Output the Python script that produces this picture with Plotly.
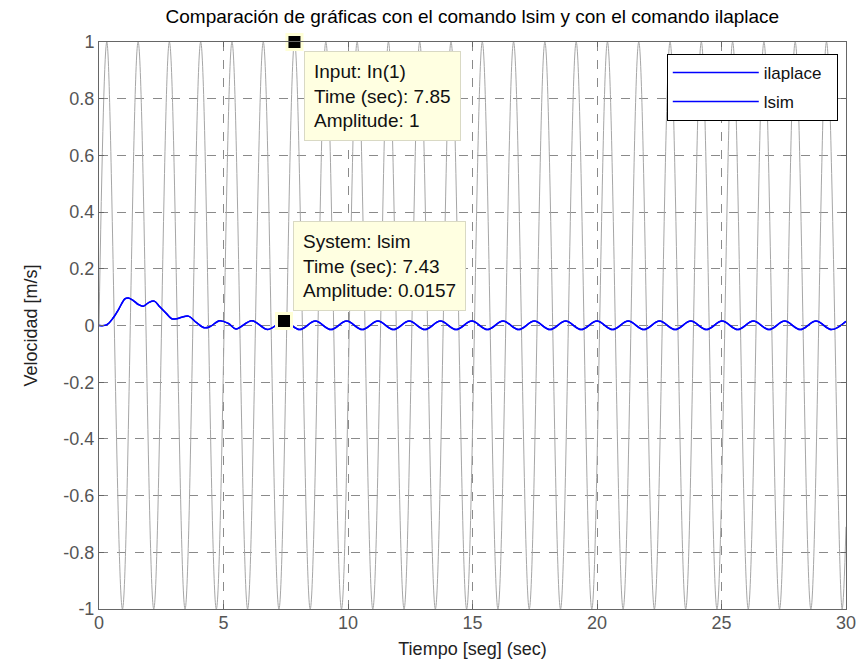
import plotly.graph_objects as go

# ---------------- data ----------------
# Input signal (gray) : peaks / troughs
input_t = [0.0, 0.314, 0.942, 1.571, 2.199, 2.827, 3.456, 4.084, 4.712, 5.341, 5.969,
           6.597, 7.226, 7.854, 8.482, 9.110, 9.739, 10.367, 10.996, 11.624, 12.252,
           12.880, 13.509, 14.137, 14.765, 15.394, 16.022, 16.650, 17.279, 17.907,
           18.535, 19.164, 19.792, 20.420, 21.049, 21.677, 22.305, 22.934, 23.562,
           24.190, 24.819, 25.447, 26.075, 26.704, 27.332, 27.960, 28.589, 29.217,
           29.845, 30.0]
input_u = [0.0, 1, -1, 1, -1, 1, -1, 1, -1, 1, -1,
           1, -1, 1, -1, 1, -1, 1, -1, 1, -1,
           1, -1, 1, -1, 1, -1, 1, -1, 1,
           -1, 1, -1, 1, -1, 1, -1, 1, -1,
           1, -1, 1, -1, 1, -1, 1, -1, 1,
           -1, -0.71]

# System response (blue)
resp_t = [0.0, 0.30, 0.58, 0.80, 1.04, 1.18, 1.38, 1.58, 1.78, 1.98, 2.22, 2.45, 2.72,
          2.92, 3.12, 3.32, 3.59, 3.92, 4.23, 4.46, 4.84, 5.20, 5.50, 6.14, 6.78, 7.43,
          8.058, 8.687, 9.315, 9.943, 10.572, 11.200, 11.828, 12.457, 13.085, 13.713,
          14.341, 14.970, 15.598, 16.226, 16.855, 17.483, 18.111, 18.740, 19.368,
          19.996, 20.625, 21.253, 21.881, 22.510, 23.138, 23.766, 24.395, 25.023,
          25.651, 26.279, 26.908, 27.536, 28.164, 28.793, 29.421, 30.0]
resp_y = [0.0, 0.002, 0.028, 0.059, 0.094, 0.097, 0.088, 0.074, 0.068, 0.080, 0.086,
          0.065, 0.041, 0.024, 0.024, 0.029, 0.033, 0.010, -0.008, -0.004, 0.017, 0.007,
          -0.012, 0.017, -0.014, 0.0157,
          -0.0145, 0.0157, -0.0145, 0.0157, -0.0145, 0.0157, -0.0145, 0.0157, -0.0145,
          0.0157, -0.0145, 0.0157, -0.0145, 0.0157, -0.0145, 0.0157, -0.0145, 0.0157,
          -0.0145, 0.0157, -0.0145, 0.0157, -0.0145, 0.0157, -0.0145, 0.0157, -0.0145,
          0.0157, -0.0145, 0.0157, -0.0145, 0.0157, -0.0145, 0.0157, -0.0145, 0.015]

series_names = ["ilaplace", "lsim"]

x_ticks = [0, 5, 10, 15, 20, 25, 30]
x_tick_labels = ["0", "5", "10", "15", "20", "25", "30"]
y_ticks = [-1, -0.8, -0.6, -0.4, -0.2, 0, 0.2, 0.4, 0.6, 0.8, 1]
y_tick_labels = ["-1", "-0.8", "-0.6", "-0.4", "-0.2", "0", "0.2", "0.4", "0.6", "0.8", "1"]

# data tips
tip1_t, tip1_y = 7.85, 1
tip1_lines = ["Input: In(1)", "Time (sec): 7.85", "Amplitude: 1"]
tip2_t, tip2_y = 7.43, 0.0157
tip2_lines = ["System: lsim", "Time (sec): 7.43", "Amplitude: 0.0157"]

title_text = "Comparación de gráficas con el comando lsim y con el comando ilaplace"
x_title = "Tiempo [seg] (sec)"
y_title = "Velocidad [m/s]"

# ---------------- figure ----------------
FONT = "Liberation Sans, Arial, Helvetica, sans-serif"
PAD = "\u00a0\u00a0"  # right padding inside the legend box
fig = go.Figure()

fig.add_trace(go.Scatter(x=input_t, y=input_u, mode="lines",
                         line=dict(color="#a6a6a6", width=1, shape="spline", smoothing=1),
                         showlegend=False, hoverinfo="skip"))
fig.add_trace(go.Scatter(x=resp_t, y=resp_y, mode="lines", name=series_names[0] + PAD,
                         legendgroup="a",
                         line=dict(color="#0000ff", width=1.5, shape="spline")))
fig.add_trace(go.Scatter(x=resp_t, y=resp_y, mode="lines", name=series_names[1] + PAD,
                         legendgroup="b",
                         line=dict(color="#0000ff", width=1.5, shape="spline")))

for tt, yy in [(tip1_t, tip1_y), (tip2_t, tip2_y)]:
    fig.add_trace(go.Scatter(x=[tt], y=[yy], mode="markers",
                             marker=dict(symbol="square", size=15, color="black",
                                         line=dict(color="#ffffd6", width=3)),
                             cliponaxis=False, showlegend=False, hoverinfo="skip"))

tip_style = dict(showarrow=False, align="left", bgcolor="#ffffe1",
                 bordercolor="#d9d9c4", borderwidth=1, borderpad=9,
                 font=dict(family=FONT, size=19, color="#111111"),
                 xref="x", yref="y")
fig.add_annotation(x=tip1_t, y=tip1_y, text="<br>".join(tip1_lines),
                   xanchor="left", yanchor="top", xshift=10, yshift=-9, **tip_style)
fig.add_annotation(x=tip2_t, y=tip2_y, text="<br>".join(tip2_lines),
                   xanchor="left", yanchor="bottom", xshift=9, yshift=10, **tip_style)

axis_common = dict(showline=True, linecolor="#666666", linewidth=1, mirror="ticks",
                   ticks="inside", ticklen=5, tickcolor="#666666",
                   showgrid=True, gridcolor="#8a8a8a", gridwidth=1, griddash="dash",
                   zeroline=False,
                   tickfont=dict(family=FONT, size=18, color="#555555"))

fig.update_layout(
    width=862, height=670,
    margin=dict(l=99, r=16, t=42, b=61, autoexpand=False),
    paper_bgcolor="white", plot_bgcolor="white",
    title=dict(text=title_text, x=0.548, xanchor="center", y=0.975, yanchor="middle",
               font=dict(family=FONT, size=19, color="#000000")),
    xaxis=dict(range=[0, 30], tickmode="array", tickvals=x_ticks, ticktext=x_tick_labels,
               ticklabelstandoff=-3,
               title=dict(text=x_title, standoff=10,
                          font=dict(family=FONT, size=18, color="#222222")),
               **axis_common),
    yaxis=dict(range=[-1, 1], tickmode="array", tickvals=y_ticks, ticktext=y_tick_labels,
               ticklabelstandoff=0,
               title=dict(text=y_title, standoff=21,
                          font=dict(family=FONT, size=18, color="#222222")),
               **axis_common),
    legend=dict(x=0.989, y=0.979, xanchor="right", yanchor="top",
                bgcolor="white", bordercolor="black", borderwidth=1,
                font=dict(family=FONT, size=17, color="#111111"),
                itemwidth=86, tracegroupgap=4),
    showlegend=True,
)

fig.write_html("out.html")
